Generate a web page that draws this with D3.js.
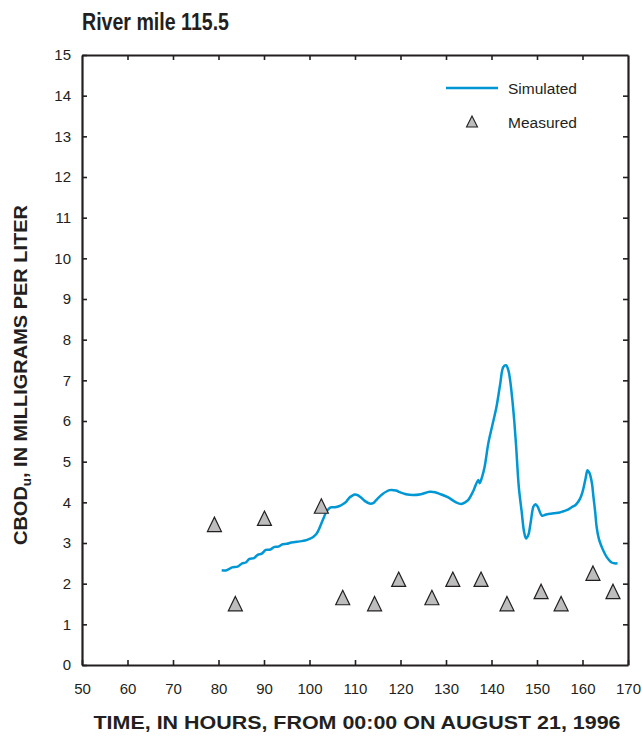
<!DOCTYPE html>
<html><head><meta charset="utf-8">
<script src="https://cdn.jsdelivr.net/npm/d3@7/dist/d3.min.js"></script>
<style>
body{margin:0;background:#fff;}
text{font-family:"Liberation Sans",Arial,Helvetica,sans-serif;}
</style></head>
<body><svg id="chart" width="642" height="736"></svg>
<script>
const titleText = "River mile 115.5";
const xTitle = "TIME, IN HOURS, FROM 00:00 ON AUGUST 21, 1996";
const xTicks = [50,60,70,80,90,100,110,120,130,140,150,160,170];
const yTicks = [0,1,2,3,4,5,6,7,8,9,10,11,12,13,14,15];

const simTime  = [80.7,81.8,83.0,84.2,85.2,86.0,86.8,87.8,88.6,89.5,90.4,91.4,92.2,93.1,94.1,95.0,96.0,97.8,99.0,100.0,100.8,101.5,102.0,102.6,103.2,103.7,104.3,104.8,105.6,106.6,107.4,108.1,108.8,109.5,109.9,110.5,111.2,112.2,113.2,114.0,114.7,116.0,117.6,119.0,119.8,121.2,122.7,124.5,126.4,127.6,128.6,130.5,132.2,133.4,134.2,134.9,136.0,137.1,137.4,138.0,138.5,139.3,140.2,141.1,141.9,142.6,143.2,143.7,144.1,144.6,145.0,145.4,146.0,146.6,147.2,147.6,148.1,148.6,149.2,149.6,149.9,150.2,150.5,151.1,152.0,153.6,155.0,155.8,156.8,157.6,158.4,159.1,159.7,160.2,160.7,161.1,161.5,161.7,162.1,162.4,162.8,163.1,163.6,164.2,164.8,165.3,166.0,166.4,167.0,167.7];
const simValue = [2.33,2.33,2.40,2.42,2.50,2.52,2.61,2.63,2.71,2.74,2.83,2.84,2.90,2.91,2.97,2.98,3.01,3.04,3.06,3.10,3.15,3.22,3.32,3.48,3.64,3.77,3.85,3.88,3.88,3.91,3.96,4.02,4.12,4.17,4.19,4.18,4.13,4.03,3.97,3.98,4.06,4.20,4.30,4.29,4.25,4.20,4.18,4.20,4.26,4.25,4.21,4.12,4.00,3.96,4.00,4.06,4.28,4.55,4.47,4.65,4.88,5.45,5.90,6.35,6.90,7.33,7.37,7.25,7.00,6.50,6.00,5.40,4.38,3.80,3.25,3.11,3.20,3.50,3.89,3.95,3.93,3.88,3.80,3.67,3.70,3.73,3.75,3.78,3.82,3.88,3.93,4.02,4.15,4.34,4.60,4.79,4.73,4.67,4.45,4.14,3.75,3.40,3.10,2.91,2.76,2.66,2.56,2.52,2.50,2.50];

const measTime  = [79.1,83.7,90.1,102.6,107.3,114.3,119.6,126.9,131.5,137.7,143.4,150.9,155.3,162.3,166.7];
const measValue = [3.40,1.45,3.55,3.85,1.60,1.45,2.05,1.60,2.05,2.05,1.45,1.75,1.45,2.20,1.75];

const svg = d3.select("#chart");
const L = 82, R = 628, T = 55, B = 665;
const x = d3.scaleLinear().domain([50,170]).range([L,R]);
const y = d3.scaleLinear().domain([0,15]).range([B,T]);
const axisColor = "#231f20";
const textColor = "#231f20";

// axes
const gB = svg.append("g").attr("transform",`translate(0,${B})`)
  .call(d3.axisBottom(x).tickValues(xTicks).tickSize(-5).tickSizeOuter(0).tickPadding(18));
const gL = svg.append("g").attr("transform",`translate(${L},0)`)
  .call(d3.axisLeft(y).tickValues(yTicks).tickSize(-5).tickSizeOuter(0).tickPadding(11));
const gT = svg.append("g").attr("transform",`translate(0,${T})`)
  .call(d3.axisTop(x).tickValues(xTicks).tickSize(-5).tickSizeOuter(0).tickFormat(""));
const gR = svg.append("g").attr("transform",`translate(${R},0)`)
  .call(d3.axisRight(y).tickValues(yTicks).tickSize(-5).tickSizeOuter(0).tickFormat(""));
[gB,gL,gT,gR].forEach(g=>{
  g.select(".domain").attr("stroke",axisColor).attr("stroke-width",2.2);
  g.selectAll(".tick line").attr("stroke",axisColor).attr("stroke-width",1.6);
  g.selectAll(".tick text").attr("fill",textColor).attr("font-size",15);
});
gT.selectAll(".tick").filter(d=>d===50||d===170).remove();
gR.selectAll(".tick").filter(d=>d===0||d===15).remove();

// line
const line = d3.line().x((d,i)=>x(simTime[i])).y((d,i)=>y(simValue[i])).curve(d3.curveCatmullRom.alpha(0.5));
svg.append("path").datum(simValue).attr("d",line)
  .attr("fill","none").attr("stroke","#0097d4").attr("stroke-width",2.5).attr("stroke-linejoin","round");

// triangle marker (width 14, height 14.4, centred on centroid)
const triPath = "M0,-9.6L7,4.8L-7,4.8Z";
svg.append("g").selectAll("path").data(measValue).join("path")
  .attr("d",triPath)
  .attr("transform",(d,i)=>`translate(${x(measTime[i])},${y(d)})`)
  .attr("fill","#bdbdbd").attr("stroke","#231f20").attr("stroke-width",1.2).attr("stroke-linejoin","miter");

// legend
svg.append("line").attr("x1",446).attr("x2",498).attr("y1",88).attr("y2",88)
  .attr("stroke","#0097d4").attr("stroke-width",2.5);
svg.append("text").attr("x",508).attr("y",93.5).attr("font-size",15.5).attr("fill",textColor).text("Simulated");
svg.append("path").attr("d","M0,-7L5.5,4L-5.5,4Z").attr("transform","translate(472,123)")
  .attr("fill","#bdbdbd").attr("stroke","#231f20").attr("stroke-width",1.1);
svg.append("text").attr("x",508).attr("y",127.5).attr("font-size",15.5).attr("fill",textColor).text("Measured");

// titles
svg.append("text").attr("x",82).attr("y",30).attr("font-size",23).attr("font-weight","bold")
  .attr("fill",textColor).attr("textLength",147).attr("lengthAdjust","spacingAndGlyphs").text(titleText);
svg.append("text").attr("x",357).attr("y",729).attr("text-anchor","middle")
  .attr("font-size",19).attr("font-weight","bold").attr("fill",textColor)
  .attr("textLength",527).attr("lengthAdjust","spacingAndGlyphs").text(xTitle);
const yt = svg.append("text").attr("transform","translate(27,375) rotate(-90)")
  .attr("text-anchor","middle").attr("font-size",18).attr("font-weight","bold").attr("fill",textColor)
  .attr("textLength",340).attr("lengthAdjust","spacingAndGlyphs");
yt.append("tspan").text("CBOD");
yt.append("tspan").attr("font-size",12).attr("dy",4).text("u");
yt.append("tspan").attr("dy",-4).text(", IN MILLIGRAMS PER LITER");
</script></body></html>
